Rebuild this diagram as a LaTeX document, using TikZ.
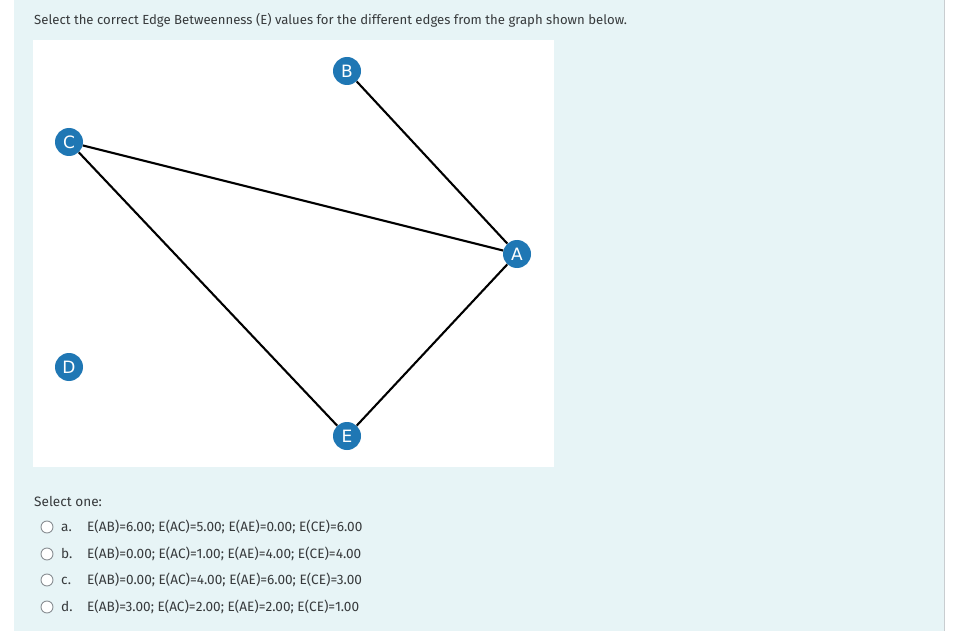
\documentclass[tikz,border=0pt]{standalone}
\usepackage{fontspec}
\setmainfont{Fira Sans}
\newfontfamily\nodefont{DejaVu Sans}
\definecolor{pagebg}{HTML}{E7F4F6}
\definecolor{nodeblue}{HTML}{1F77B4}
\definecolor{txt}{HTML}{373A3C}
\definecolor{radio}{HTML}{8A8F94}
\definecolor{edgeline}{HTML}{C9CDD0}
\begin{document}
\begin{tikzpicture}[x=1pt,y=-1pt,
  gnode/.style={circle,fill=nodeblue,minimum size=28pt,inner sep=0pt,text=white,font=\nodefont\fontsize{17}{17}\selectfont},
  gedge/.style={line width=2.1pt,black},
  qtext/.style={anchor=base west,inner sep=0pt,text=txt,font=\fontsize{13.15}{15}\selectfont},
  otext/.style={anchor=base west,inner sep=0pt,text=txt,font=\fontsize{13.6}{15}\selectfont},
  radiobtn/.style={circle,draw=radio,line width=0.9pt,fill=white,minimum size=12pt,inner sep=0pt}]
\useasboundingbox (0,0) rectangle (953,631);
\fill[white] (0,0) rectangle (953,631);
\fill[pagebg] (14,0) rectangle (944,631);
\draw[edgeline,line width=1pt] (944,0) -- (944,631);
\fill[white] (33,40) rectangle (554,467);
\node[qtext] (title) at (34,25) {Select the correct Edge Betweenness (E) values for the different edges from the graph shown below.};
\node[gnode] (B) at (347,71) {B};
\node[gnode] (C) at (69,142) {C};
\node[gnode] (A) at (517,254) {A};
\node[gnode] (D) at (69,367) {D};
\node[gnode] (E) at (347,436) {E};
\draw[gedge] (B) -- (A);
\draw[gedge] (C) -- (A);
\draw[gedge] (C) -- (E);
\draw[gedge] (A) -- (E);
\node[otext] (sel) at (34,506) {Select one:};
\node[radiobtn] (ra) at (47,527) {};
\node[radiobtn] (rb) at (47,554) {};
\node[radiobtn] (rc) at (47,580) {};
\node[radiobtn] (rd) at (47,607) {};
\node[otext] (la) at (61,531) {a.};
\node[otext] (lb) at (61,558) {b.};
\node[otext] (lc) at (61,584) {c.};
\node[otext] (ld) at (61,611) {d.};
\node[otext] (oa) at (87,531) {E(AB)=6.00; E(AC)=5.00; E(AE)=0.00; E(CE)=6.00};
\node[otext] (ob) at (87,558) {E(AB)=0.00; E(AC)=1.00; E(AE)=4.00; E(CE)=4.00};
\node[otext] (oc) at (87,584) {E(AB)=0.00; E(AC)=4.00; E(AE)=6.00; E(CE)=3.00};
\node[otext] (od) at (87,611) {E(AB)=3.00; E(AC)=2.00; E(AE)=2.00; E(CE)=1.00};
\end{tikzpicture}
\end{document}
